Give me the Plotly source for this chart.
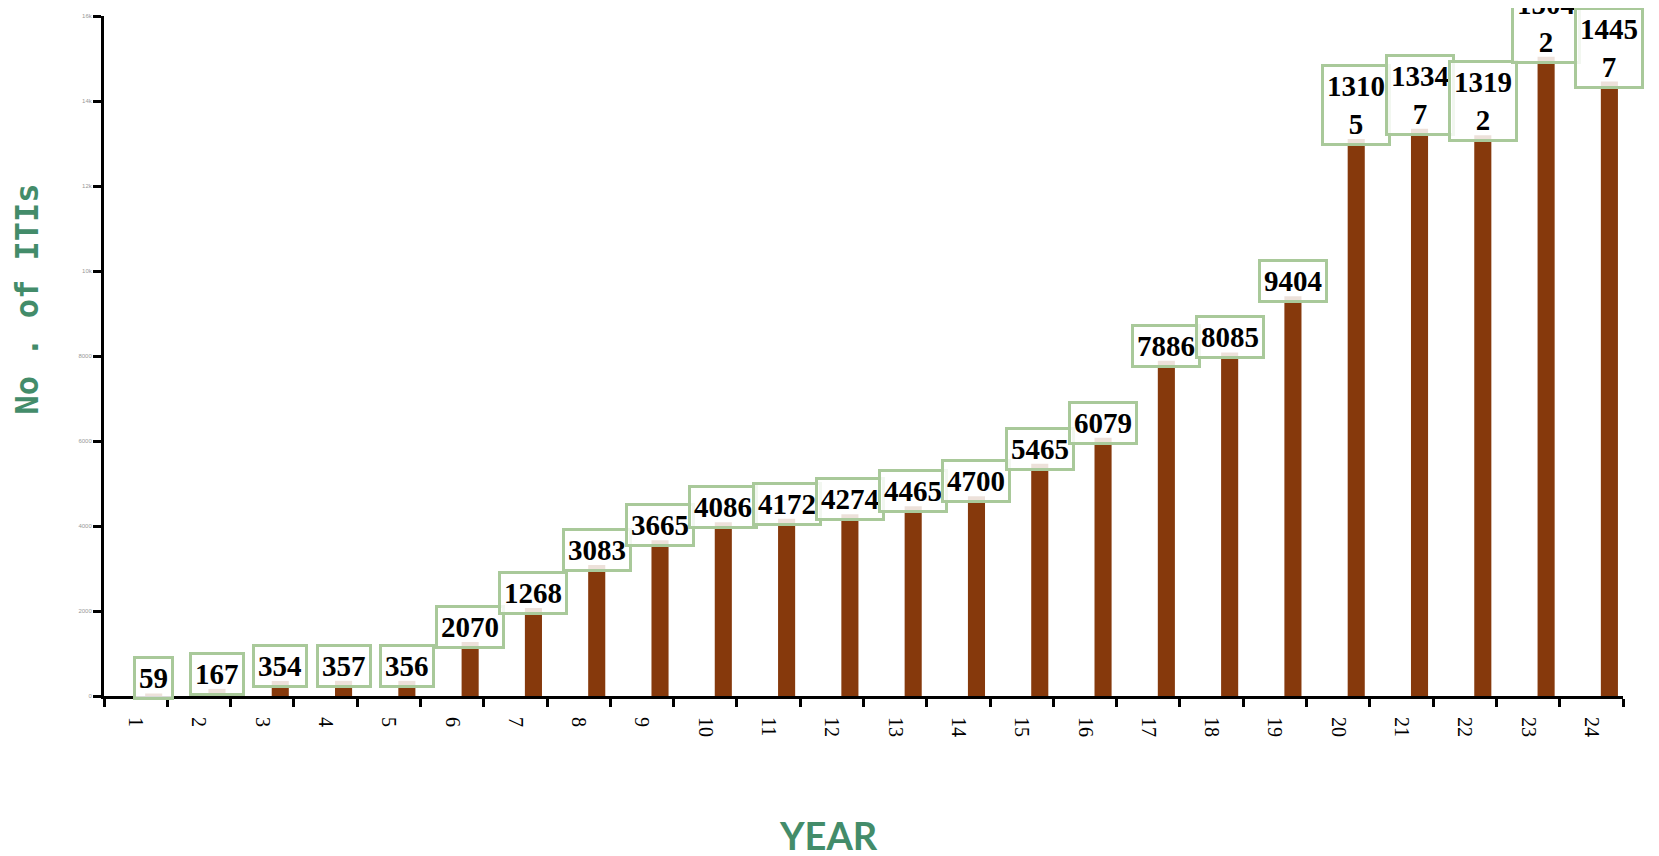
import plotly.graph_objects as go

years = [str(i) for i in range(1, 25)]
itis = [59, 167, 354, 357, 356, 1268, 2070, 3083, 3665, 4086, 4172, 4274,
        4465, 4700, 5465, 6079, 7886, 8085, 9404, 13105, 13347, 13192, 15042, 14457]
label_text = ["59", "167", "354", "357", "356", "2070", "1268", "3083", "3665", "4086",
              "4172", "4274", "4465", "4700", "5465", "6079", "7886", "8085", "9404",
              "13105", "13347", "13192", "15042", "14457"]
y_ticks = [0, 2000, 4000, 6000, 8000, 10000, 12000, 14000, 16000]

xpos = list(range(1, len(years) + 1))
BAR_SHIFT = 0.285
BAR_W = 0.27

fig = go.Figure()
fig.add_trace(go.Bar(
    x=xpos, y=itis,
    width=BAR_W, offset=BAR_SHIFT - BAR_W / 2,
    marker=dict(color="#86390c", line=dict(width=0)),
    hoverinfo="skip",
))

for xi, v, t in zip(xpos, itis, label_text):
    txt = t if len(t) <= 4 else t[:4] + "<br>" + t[4:]
    fig.add_annotation(
        x=xi + BAR_SHIFT, y=v, xref="x", yref="y",
        text=txt, showarrow=False, yanchor="bottom", xanchor="center",
        yshift=-7,
        font=dict(family="Liberation Serif", size=29, color="black", weight="bold"),
        bgcolor="rgba(255,255,255,0.85)", bordercolor="#a9c99a",
        borderwidth=3, borderpad=3,
    )

fig.add_annotation(
    xref="paper", yref="paper", x=-0.0645, y=0.583,
    text="No . of ITIs", textangle=-90, showarrow=False,
    font=dict(family="DejaVu Sans Mono", size=32, color="#438c6a", weight="bold"),
)
fig.add_annotation(
    xref="paper", yref="paper", x=0.477, y=-0.205,
    text="YEAR", showarrow=False, yanchor="middle",
    font=dict(family="Lato", size=38, color="#438c6a", weight="bold"),
)

fig.update_layout(
    width=1659, height=856,
    margin=dict(l=96, r=44, t=5, b=168),
    paper_bgcolor="white", plot_bgcolor="white",
    showlegend=False,
    xaxis=dict(
        range=[0.5, 24.5], tickmode="array", tickvals=xpos, ticktext=years,
        tickangle=90, ticks="", showgrid=False, zeroline=False,
        showline=True, linecolor="black", linewidth=3,
        ticklabelstandoff=14,
        tickfont=dict(family="Liberation Serif", size=20, color="black"),
        minor=dict(tickmode="array", tickvals=[x - 0.5 for x in xpos] + [24.5],
                   ticks="outside", ticklen=8, tickwidth=3, tickcolor="black",
                   showgrid=False),
    ),
    yaxis=dict(
        range=[0, 16000], tickmode="array", tickvals=y_ticks,
        ticks="outside", ticklen=8, tickwidth=3, tickcolor="black",
        showgrid=False, zeroline=False,
        showline=True, linecolor="black", linewidth=3,
        tickfont=dict(family="Liberation Sans", size=6, color="#999999"),
    ),
)

fig.write_html("out.html")
